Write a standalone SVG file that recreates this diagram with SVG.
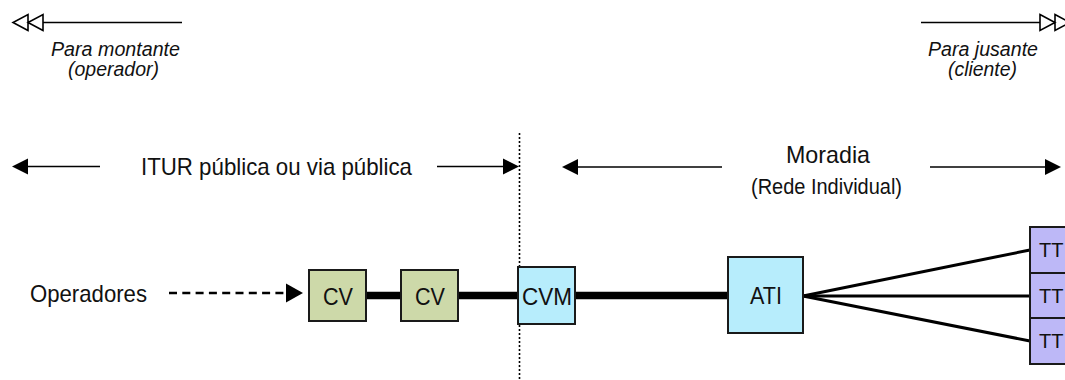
<svg xmlns="http://www.w3.org/2000/svg" width="1065" height="380" viewBox="0 0 1065 380">
  <style>
    text { font-family: "Liberation Sans", Arial, sans-serif; fill: #111; }
    .lbl { font-size: 24px; }
    .sub { font-size: 22px; }
    .dir { font-size: 20px; font-style: italic; }
    .edge { font-size: 20px; }
    .box { stroke: #1a1a1a; stroke-width: 2; }
    .cv { fill: #cdd9a9; }
    .blue { fill: #b7edfc; }
    .tt { fill: #bdb8f7; }
    .thin { stroke: #000; stroke-width: 1.6; fill: none; }
    .trunk { stroke: #000; stroke-width: 7.5; }
    .drop { stroke: #000; stroke-width: 3; }
  </style>
  <defs>
    <marker id="solid" markerUnits="userSpaceOnUse" markerWidth="20" markerHeight="20" refX="0" refY="8" orient="auto" overflow="visible">
      <path d="M0,0 L16,8 L0,16 Z" fill="#000"/>
    </marker>
    <marker id="solidBig" markerUnits="userSpaceOnUse" markerWidth="20" markerHeight="20" refX="0" refY="9.5" orient="auto" overflow="visible">
      <path d="M0,0 L17,9.5 L0,19 Z" fill="#000"/>
    </marker>
    <marker id="double" markerUnits="userSpaceOnUse" markerWidth="34" markerHeight="20" refX="0" refY="8" orient="auto" overflow="visible">
      <path d="M0,0 L15,8 L0,16 Z M15,0 L30,8 L15,16 Z" fill="#fff" stroke="#000" stroke-width="1.6" stroke-linejoin="miter"/>
    </marker>
  </defs>

  <!-- direction hints -->
  <g id="upstream">
    <line class="thin" x1="182" y1="22.5" x2="43" y2="22.5" marker-end="url(#double)"/>
    <text class="dir" x="51" y="56" textLength="129" lengthAdjust="spacingAndGlyphs">Para montante</text>
    <text class="dir" x="68" y="76" textLength="91" lengthAdjust="spacingAndGlyphs">(operador)</text>
  </g>
  <g id="downstream">
    <line class="thin" x1="921" y1="22.5" x2="1040" y2="22.5" marker-end="url(#double)"/>
    <text class="dir" x="928" y="56" textLength="110" lengthAdjust="spacingAndGlyphs">Para jusante</text>
    <text class="dir" x="948" y="76" textLength="69" lengthAdjust="spacingAndGlyphs">(cliente)</text>
  </g>

  <!-- zone labels -->
  <g id="zone-public">
    <line class="thin" x1="100" y1="166.5" x2="28" y2="166.5" marker-end="url(#solid)"/>
    <line class="thin" x1="437" y1="166.5" x2="503" y2="166.5" marker-end="url(#solid)"/>
    <text class="lbl" x="141" y="175" textLength="271" lengthAdjust="spacingAndGlyphs">ITUR pública ou via pública</text>
  </g>
  <g id="zone-home">
    <line class="thin" x1="722" y1="167" x2="578" y2="167" marker-end="url(#solid)"/>
    <line class="thin" x1="930" y1="167" x2="1045" y2="167" marker-end="url(#solid)"/>
    <text class="lbl" x="786" y="163" textLength="84" lengthAdjust="spacingAndGlyphs">Moradia</text>
    <text class="sub" x="751" y="194" textLength="151" lengthAdjust="spacingAndGlyphs">(Rede Individual)</text>
  </g>

  <!-- boundary between public and private network -->
  <line id="boundary" x1="519.5" y1="133" x2="519.5" y2="380" stroke="#000" stroke-width="1.6" stroke-dasharray="2 2"/>

  <!-- connectors -->
  <g id="connectors">
    <line x1="169" y1="293" x2="286" y2="293" stroke="#000" stroke-width="2.5" stroke-dasharray="8 5.3" marker-end="url(#solidBig)"/>
    <line class="trunk" x1="366" y1="295.5" x2="401" y2="295.5"/>
    <line class="trunk" x1="458" y1="295.5" x2="518" y2="295.5"/>
    <line class="trunk" x1="575" y1="295.5" x2="728" y2="295.5"/>
    <line class="drop" x1="803" y1="296" x2="1030" y2="250"/>
    <line class="drop" x1="803" y1="296" x2="1030" y2="296"/>
    <line class="drop" x1="803" y1="296" x2="1030" y2="341"/>
  </g>

  <g id="operadores">
    <text class="lbl" x="30" y="302" textLength="117" lengthAdjust="spacingAndGlyphs">Operadores</text>
  </g>
  <g id="cv1">
    <rect class="box cv" x="309" y="270" width="57" height="51"/>
    <text class="lbl" x="323" y="305" textLength="30" lengthAdjust="spacingAndGlyphs">CV</text>
  </g>
  <g id="cv2">
    <rect class="box cv" x="401" y="270" width="57" height="51"/>
    <text class="lbl" x="415" y="305" textLength="30" lengthAdjust="spacingAndGlyphs">CV</text>
  </g>
  <g id="cvm">
    <rect class="box blue" x="518" y="267" width="57" height="57"/>
    <text class="lbl" x="522" y="305" textLength="50" lengthAdjust="spacingAndGlyphs">CVM</text>
  </g>
  <g id="ati">
    <rect class="box blue" x="728" y="257" width="75" height="76"/>
    <text class="lbl" x="750" y="304" textLength="32" lengthAdjust="spacingAndGlyphs">ATI</text>
  </g>
  <g id="tt1">
    <rect class="box tt" x="1030" y="227" width="60" height="46"/>
    <text class="edge" x="1039" y="257">TT</text>
  </g>
  <g id="tt2">
    <rect class="box tt" x="1030" y="273" width="60" height="45"/>
    <text class="edge" x="1039" y="303">TT</text>
  </g>
  <g id="tt3">
    <rect class="box tt" x="1030" y="318" width="60" height="46"/>
    <text class="edge" x="1039" y="348">TT</text>
  </g>
</svg>
